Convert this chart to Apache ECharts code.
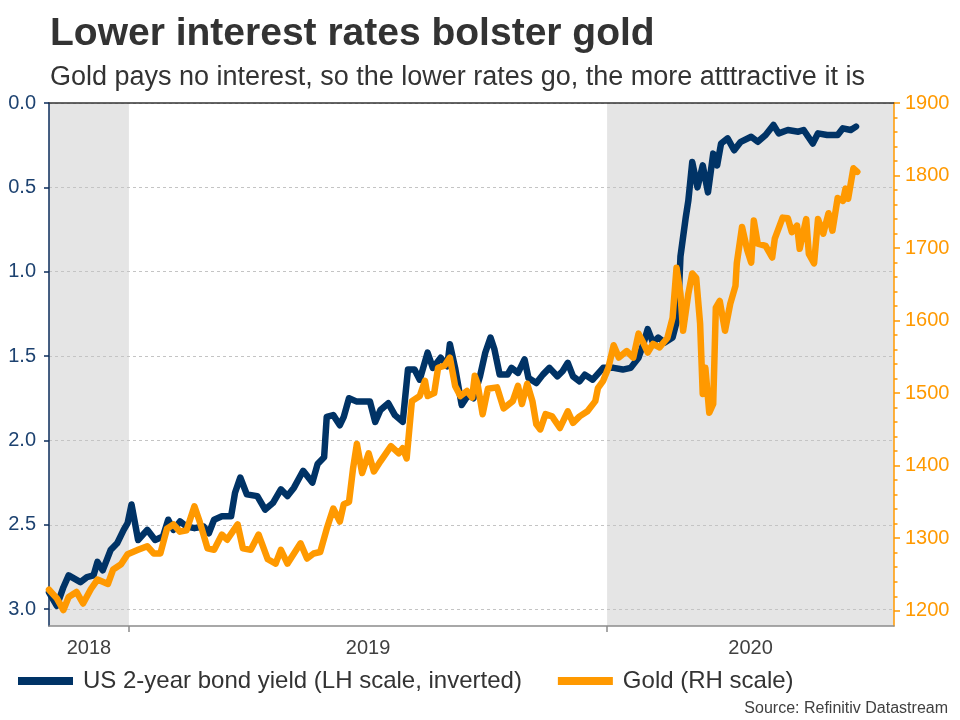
<!DOCTYPE html>
<html lang="en">
<head>
<meta charset="UTF-8">
<title>Lower interest rates bolster gold</title>
<script src="https://cdn.jsdelivr.net/npm/echarts@6/dist/echarts.min.js"></script>
<style>
    html, body { margin: 0; padding: 0; background: #fff; }
    #main { width: 960px; height: 720px; }
</style>
</head>
<body>
<div id="main"></div>
<script>
// US 2-year bond yield (left scale, inverted)
var yieldDates = [
    '2018-11-01','2018-11-07','2018-11-12','2018-11-16','2018-11-25','2018-11-30','2018-12-05','2018-12-08',
    '2018-12-12','2018-12-18','2018-12-23','2018-12-28','2018-12-31','2019-01-03','2019-01-08','2019-01-15',
    '2019-01-21','2019-01-27','2019-01-31','2019-02-04','2019-02-09','2019-02-14','2019-02-20','2019-02-27',
    '2019-03-03','2019-03-07','2019-03-13','2019-03-20','2019-03-23','2019-03-27','2019-04-01','2019-04-09',
    '2019-04-15','2019-04-21','2019-04-27','2019-05-02','2019-05-07','2019-05-14','2019-05-21','2019-05-25',
    '2019-05-30','2019-06-01','2019-06-06','2019-06-11','2019-06-14','2019-06-18','2019-06-24','2019-07-04',
    '2019-07-08','2019-07-12','2019-07-18','2019-07-23','2019-07-29','2019-08-02','2019-08-07','2019-08-11',
    '2019-08-17','2019-08-21','2019-08-27','2019-09-01','2019-09-03','2019-09-07','2019-09-12','2019-09-17',
    '2019-09-21','2019-09-26','2019-09-30','2019-10-04','2019-10-07','2019-10-11','2019-10-17','2019-10-20',
    '2019-10-25','2019-10-30','2019-11-02','2019-11-08','2019-11-13','2019-11-18','2019-11-24','2019-11-28',
    '2019-12-02','2019-12-06','2019-12-11','2019-12-15','2019-12-21','2019-12-29','2020-01-06','2020-01-13',
    '2020-01-19','2020-01-25','2020-01-29','2020-02-01','2020-02-05','2020-02-09','2020-02-14','2020-02-20',
    '2020-02-24','2020-02-26','2020-03-01','2020-03-03','2020-03-06','2020-03-10','2020-03-14','2020-03-18',
    '2020-03-22','2020-03-25','2020-03-28','2020-04-02','2020-04-07','2020-04-12','2020-04-20','2020-04-25',
    '2020-05-01','2020-05-07','2020-05-11','2020-05-18','2020-05-26','2020-05-30','2020-06-06','2020-06-10',
    '2020-06-17','2020-06-25','2020-06-29','2020-07-05','2020-07-09'
];
var yieldValues = [
    2.90, 2.98, 2.87, 2.80, 2.84, 2.81, 2.80, 2.72,
    2.77, 2.65, 2.61, 2.53, 2.49, 2.38, 2.59, 2.53,
    2.59, 2.57, 2.47, 2.53, 2.48, 2.51, 2.52, 2.51,
    2.55, 2.47, 2.45, 2.45, 2.31, 2.22, 2.32, 2.33,
    2.41, 2.37, 2.29, 2.33, 2.28, 2.18, 2.25, 2.14,
    2.10, 1.86, 1.85, 1.91, 1.86, 1.75, 1.77, 1.77,
    1.89, 1.82, 1.78, 1.85, 1.89, 1.58, 1.58, 1.64,
    1.48, 1.57, 1.51, 1.56, 1.43, 1.57, 1.79, 1.73,
    1.75, 1.62, 1.48, 1.39, 1.46, 1.61, 1.61, 1.57,
    1.60, 1.52, 1.63, 1.66, 1.61, 1.57, 1.62, 1.59,
    1.54, 1.62, 1.65, 1.61, 1.64, 1.57, 1.57, 1.58,
    1.57, 1.51, 1.42, 1.34, 1.42, 1.39, 1.42, 1.39,
    1.27, 0.91, 0.68, 0.58, 0.35, 0.50, 0.37, 0.53,
    0.30, 0.37, 0.24, 0.21, 0.28, 0.23, 0.20, 0.23,
    0.19, 0.13, 0.18, 0.16, 0.17, 0.16, 0.24, 0.18,
    0.19, 0.19, 0.15, 0.16, 0.14
];

// Gold (right scale)
var goldDates = [
    '2018-11-01','2018-11-07','2018-11-12','2018-11-16','2018-11-22','2018-11-27','2018-12-03','2018-12-08',
    '2018-12-16','2018-12-20','2018-12-26','2018-12-31','2019-01-08','2019-01-15','2019-01-20','2019-01-25',
    '2019-01-30','2019-02-04','2019-02-09','2019-02-14','2019-02-20','2019-02-24','2019-03-02','2019-03-07',
    '2019-03-13','2019-03-17','2019-03-25','2019-03-29','2019-04-04','2019-04-10','2019-04-17','2019-04-23',
    '2019-04-27','2019-05-02','2019-05-07','2019-05-12','2019-05-17','2019-05-22','2019-05-27','2019-06-01',
    '2019-06-06','2019-06-11','2019-06-14','2019-06-18','2019-06-21','2019-06-24','2019-06-28','2019-07-03',
    '2019-07-07','2019-07-12','2019-07-20','2019-07-26','2019-07-29','2019-08-01','2019-08-05','2019-08-11',
    '2019-08-15','2019-08-17','2019-08-22','2019-08-25','2019-08-30','2019-09-03','2019-09-07','2019-09-11',
    '2019-09-16','2019-09-20','2019-09-22','2019-09-24','2019-09-28','2019-10-02','2019-10-09','2019-10-14',
    '2019-10-21','2019-10-25','2019-10-28','2019-11-01','2019-11-05','2019-11-08','2019-11-11','2019-11-15',
    '2019-11-20','2019-11-26','2019-12-02','2019-12-06','2019-12-11','2019-12-17','2019-12-23','2019-12-25',
    '2019-12-29','2020-01-02','2020-01-06','2020-01-10','2020-01-16','2020-01-21','2020-01-25','2020-01-29',
    '2020-02-01','2020-02-05','2020-02-10','2020-02-16','2020-02-20','2020-02-23','2020-02-26','2020-02-28',
    '2020-03-03','2020-03-06','2020-03-09','2020-03-12','2020-03-14','2020-03-16','2020-03-19','2020-03-22',
    '2020-03-24','2020-03-27','2020-03-31','2020-04-04','2020-04-08','2020-04-09','2020-04-13','2020-04-17',
    '2020-04-20','2020-04-22','2020-04-25','2020-05-01','2020-05-06','2020-05-08','2020-05-14','2020-05-18',
    '2020-05-21','2020-05-25','2020-05-27','2020-06-01','2020-06-03','2020-06-07','2020-06-10','2020-06-14',
    '2020-06-18','2020-06-21','2020-06-25','2020-06-29','2020-07-01','2020-07-03','2020-07-07','2020-07-10'
];
var goldValues = [
    1229, 1217, 1201, 1219, 1226, 1210, 1230, 1243,
    1237, 1257, 1264, 1278, 1284, 1289, 1279, 1279,
    1313, 1319, 1309, 1311, 1344, 1323, 1286, 1284,
    1305, 1298, 1319, 1286, 1284, 1305, 1271, 1265,
    1284, 1265, 1279, 1293, 1272, 1279, 1281, 1313,
    1341, 1323, 1347, 1350, 1395, 1430, 1390, 1417,
    1392, 1406, 1427, 1417, 1424, 1410, 1489, 1496,
    1517, 1496, 1500, 1535, 1538, 1549, 1510, 1496,
    1503, 1494, 1524, 1514, 1471, 1506, 1508, 1479,
    1489, 1510, 1485, 1513, 1489, 1457, 1450, 1471,
    1468, 1452, 1475, 1459, 1468, 1475, 1489, 1507,
    1517, 1535, 1566, 1549, 1558, 1549, 1582, 1568,
    1556, 1568, 1563, 1576, 1604, 1673, 1637, 1586,
    1637, 1665, 1659, 1596, 1499, 1535, 1473, 1485,
    1618, 1627, 1586, 1623, 1648, 1679, 1729, 1697,
    1680, 1738, 1706, 1703, 1687, 1713, 1742, 1741,
    1722, 1731, 1699, 1740, 1692, 1679, 1740, 1720,
    1748, 1724, 1769, 1765, 1782, 1768, 1810, 1805
];

var xMin = '2018-11-01';
var xMax = '2020-08-07';
var yearStarts = ['2019-01-01', '2020-01-01'];
var shadedPeriods = [['2018-11-01', '2019-01-01'], ['2020-01-01', '2020-08-07']];
var yieldTicks = [0, 0.5, 1, 1.5, 2, 2.5, 3];
var goldTicks = [1200, 1300, 1400, 1500, 1600, 1700, 1800, 1900];
var goldMinorTicks = [1220, 1240, 1260, 1280, 1320, 1340, 1360, 1380, 1420, 1440, 1460, 1480,
    1520, 1540, 1560, 1580, 1620, 1640, 1660, 1680, 1720, 1740, 1760, 1780, 1820, 1840, 1860, 1880];

var yieldName = 'US 2-year bond yield (LH scale, inverted)';
var goldName = 'Gold (RH scale)';

var NAVY = '#003366';
var GOLD = '#ff9900';
var FONT = 'Liberation Sans, Arial, sans-serif';

// dates as plain timestamps, so the x axis can be a value axis with custom ticks
function toTime(s) {
    var p = s.split('-');
    return Date.UTC(+p[0], +p[1] - 1, +p[2]);
}
function zip(dates, vals) {
    var out = [];
    for (var i = 0; i < dates.length; i++) out.push([toTime(dates[i]), vals[i]]);
    return out;
}

// year labels sit in the middle of the visible part of each year
var bounds = [xMin].concat(yearStarts).concat([xMax]).map(toTime);
var yearLabelPos = [];
for (var i = 0; i < bounds.length - 1; i++) yearLabelPos.push((bounds[i] + bounds[i + 1]) / 2);

var chart = echarts.init(document.getElementById('main'));
var option = {
    animation: false,
    textStyle: { fontFamily: FONT },
    title: [
        { text: 'Lower interest rates bolster gold', left: 50, top: 15, padding: 0,
          textStyle: { fontSize: 39, fontWeight: 'bold', color: '#333', fontFamily: FONT } },
        { text: 'Gold pays no interest, so the lower rates go, the more atttractive it is', left: 50, top: 64, padding: 0,
          textStyle: { fontSize: 27, fontWeight: 'normal', color: '#333', fontFamily: FONT } },
        { text: 'Source: Refinitiv Datastream', right: 12, top: 701, padding: 0,
          textStyle: { fontSize: 16, fontWeight: 'normal', color: '#404040', fontFamily: FONT } }
    ],
    legend: {
        data: [yieldName, goldName],
        left: 13, top: 664,
        icon: 'rect', itemWidth: 55, itemHeight: 8, itemGap: 36,
        textStyle: { fontSize: 24, color: '#333', fontFamily: FONT, padding: [0, 0, 0, 5] }
    },
    grid: { left: 49, right: 66, top: 103, bottom: 94, containLabel: false, outerBoundsMode: 'none' },
    xAxis: [
        {
            type: 'value', min: toTime(xMin), max: toTime(xMax), z: 2,
            axisLine: { show: true, onZero: false, lineStyle: { color: '#8c8c8c', width: 1.5 } },
            axisTick: { show: true, length: 6, customValues: yearStarts.map(toTime), lineStyle: { color: '#8c8c8c', width: 1.5 } },
            axisLabel: { customValues: yearLabelPos, fontSize: 20, color: '#404040', margin: 12,
                formatter: function (v) { return String(new Date(v).getUTCFullYear()); } },
            splitLine: { show: false }
        },
        {
            type: 'value', min: toTime(xMin), max: toTime(xMax), position: 'top', z: 2,
            axisLine: { show: true, onZero: false, lineStyle: { color: '#333', width: 1.5 } },
            axisTick: { show: false }, axisLabel: { show: false }, splitLine: { show: false }
        }
    ],
    yAxis: [
        {
            type: 'value', position: 'left', inverse: true, min: 0, max: 3.1, z: 2,
            axisLine: { show: true, onZero: false, lineStyle: { color: '#0b2d5b', width: 1.5 } },
            axisTick: { show: true, length: 5, customValues: yieldTicks, lineStyle: { color: '#0b2d5b', width: 1.5 } },
            axisLabel: { customValues: yieldTicks, fontSize: 20, color: '#1d4270', margin: 13,
                formatter: function (v) { return v.toFixed(1); } },
            splitLine: { show: true, lineStyle: { color: '#c4c4c4', width: 1, type: [3, 3] } }
        },
        {
            type: 'value', position: 'right', min: 1179, max: 1900, z: 2,
            axisLine: { show: true, onZero: false, lineStyle: { color: GOLD, width: 1.5 } },
            axisTick: { show: true, length: 6, customValues: goldTicks, lineStyle: { color: GOLD, width: 1.5 } },
            axisLabel: { customValues: goldTicks, fontSize: 20, color: GOLD, margin: 11,
                formatter: function (v) { return String(v); } },
            splitLine: { show: false }
        },
        {
            type: 'value', position: 'right', min: 1179, max: 1900, z: 2,
            axisLine: { show: false, onZero: false },
            axisTick: { show: true, length: 3.5, customValues: goldMinorTicks, lineStyle: { color: GOLD, width: 1.5 } },
            axisLabel: { show: false },
            splitLine: { show: false }
        }
    ],
    series: [
        {
            type: 'line', data: [], z: 1, silent: true,
            markArea: {
                silent: true,
                itemStyle: { color: '#e5e5e5' },
                data: shadedPeriods.map(function (p) { return [{ xAxis: toTime(p[0]) }, { xAxis: toTime(p[1]) }]; })
            }
        },
        {
            name: yieldName, type: 'line', xAxisIndex: 0, yAxisIndex: 0, z: 3,
            symbol: 'none', showSymbol: false,
            lineStyle: { color: NAVY, width: 6.5, cap: 'round', join: 'round' },
            itemStyle: { color: NAVY },
            data: zip(yieldDates, yieldValues)
        },
        {
            name: goldName, type: 'line', xAxisIndex: 0, yAxisIndex: 1, z: 3,
            symbol: 'none', showSymbol: false,
            lineStyle: { color: GOLD, width: 6.5, cap: 'round', join: 'round' },
            itemStyle: { color: GOLD },
            data: zip(goldDates, goldValues)
        }
    ]
};
chart.setOption(option);
</script>
</body>
</html>
